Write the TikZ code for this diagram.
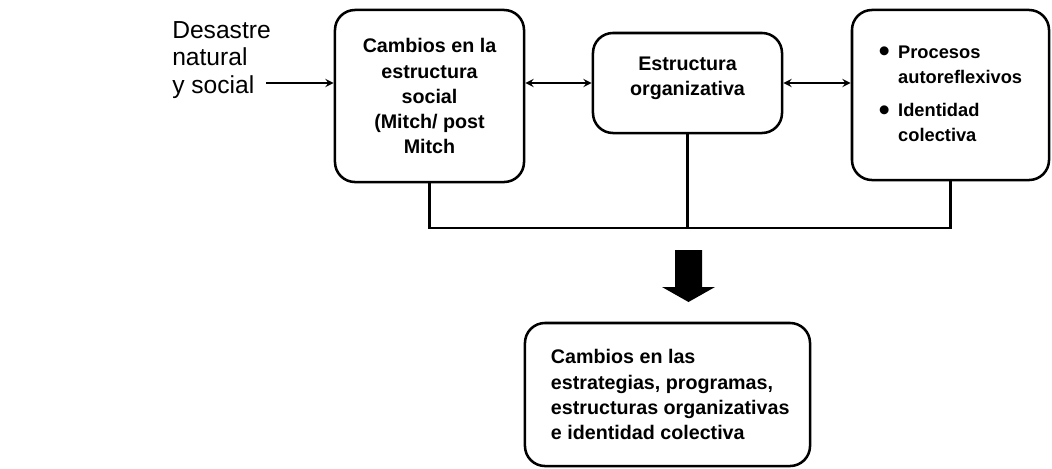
\documentclass[tikz,border=0pt]{standalone}
\usepackage{fontspec}
\setmainfont{Liberation Sans}
\usetikzlibrary{arrows.meta,positioning}

\begin{document}
\begin{tikzpicture}[x=0.025cm, y=0.025cm,
    box/.style={draw, line width=1.8pt, rounded corners=0.5cm, align=center,
                inner sep=0pt, font=\fontsize{14}{17.8}\selectfont\bfseries},
    line/.style={line width=1.6pt},
    link/.style={line, stealth-stealth}]

    \useasboundingbox (0,0) rectangle (1052,-468);

    % Boxes
    \node[anchor=west, align=left, inner sep=0pt,
          font=\fontsize{17.5}{19.5}\selectfont] (disaster) at (172,-60)
        {Desastre\\natural\\y social};
    \node[box, minimum width=4.725cm, minimum height=4.3cm] (social) at (429.5,-96)
        {Cambios en la\\estructura\\social\\(Mitch/ post\\Mitch};
    \node[box, minimum width=4.725cm, minimum height=2.5cm] (orga) at (687.5,-83)
        {Estructura\\organizativa\\[-8pt]\mbox{}};
    \node[box, minimum width=4.925cm, minimum height=4.25cm,
          font=\fontsize{13}{17.8}\selectfont\bfseries] (proc) at (950.5,-95)
        {\begin{tabular}{@{}l@{\hspace{6pt}}l@{}}
            \raisebox{-2.5pt}{\fontsize{22}{17.8}\selectfont\textbullet} & Procesos\\
                                & autoreflexivos\\[6pt]
            \raisebox{-2.5pt}{\fontsize{22}{17.8}\selectfont\textbullet} & Identidad\\
                                & colectiva
         \end{tabular}};
    \node[box, minimum width=7.125cm, minimum height=3.575cm] (result) at (667.5,-394.5) {};
    \node[anchor=west, align=left, inner sep=0pt,
          font=\fontsize{14}{17.8}\selectfont\bfseries] (resulttext)
        at ([xshift=0.675cm]result.west)
        {Cambios en las\\estrategias, programas,\\estructuras organizativas\\e identidad colectiva};

    % Arrows
    \coordinate (src) at (266,-83);
    \draw[line, -stealth] (src) -- (src -| social.west);
    \draw[link] (social.east |- orga.west) -- (orga.west);
    \draw[link] (orga.east) -- (orga.east -| proc.west);

    % Bracket
    \coordinate (join) at (687.5,-228);
    \draw[line] (social.south) |- (join) -| (proc.south);
    \draw[line] (orga.south) -- (join);

    % Block arrow
    \fill (675,-250) -- (702,-250) -- (702,-287) -- (715,-287) -- (688.5,-302)
        -- (662,-287) -- (675,-287) -- cycle;
\end{tikzpicture}
\end{document}
